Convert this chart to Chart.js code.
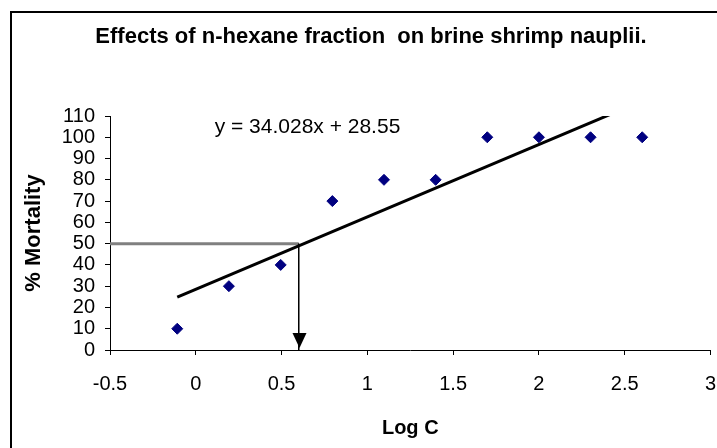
<!DOCTYPE html>
<html><head><meta charset="utf-8">
<style>
html,body{margin:0;padding:0;background:#fff;overflow:hidden;}
#wrap{position:relative;width:717px;height:448px;overflow:hidden;}
#frame{position:absolute;left:10px;top:11px;width:800px;height:600px;border:2px solid #000;box-sizing:border-box;}
canvas{position:absolute;left:0;top:0;}
</style>
<script src="https://cdn.jsdelivr.net/npm/chart.js@4.4.1/dist/chart.umd.min.js"></script>
</head><body>
<div id="wrap"><div id="frame"></div><canvas id="c" width="717" height="448"></canvas></div>
<script>
// ---- data ----
const logC      = [-0.108, 0.193, 0.495, 0.796, 1.097, 1.398, 1.699, 2.0, 2.301, 2.602];
const mortality = [10, 30, 40, 70, 80, 80, 100, 100, 100, 100];
const slope = 34.028;
const intercept = 28.55;
const lc50LogC = 0.6;
const lc50Mortality = 50;
const xMin = -0.5, xMax = 3, xStep = 0.5;
const yMin = 0, yMax = 110, yStep = 10;
const titleText = 'Effects of n-hexane fraction  on brine shrimp nauplii.';
const equationText = 'y = 34.028x + 28.55';
const xTitle = 'Log C';
const yTitle = '% Mortality';

const FONT = "'Liberation Sans', Arial, sans-serif";

const pts = logC.map((x, i) => ({x: x, y: mortality[i]}));
const tx0 = Math.min(...logC), tx1 = Math.max(...logC);
const trend = [tx0, tx1].map(x => ({x: x, y: slope * x + intercept}));
const hLine = [{x: xMin, y: lc50Mortality}, {x: lc50LogC, y: lc50Mortality}];
const vLine = [{x: lc50LogC, y: lc50Mortality}, {x: lc50LogC, y: yMin}];

const annot = {
  id: 'annot',
  afterDraw(chart) {
    const {ctx, scales: {x, y}} = chart;
    ctx.save();
    // chart title
    ctx.font = 'bold 22px ' + FONT;
    ctx.textAlign = 'center';
    ctx.textBaseline = 'middle';
    ctx.fillStyle = '#000';
    ctx.fillText(titleText, 371, 37);
    ctx.restore();
  },
  afterDatasetsDraw(chart) {
    const {ctx, scales: {x, y}} = chart;
    ctx.save();
    // arrow head
    const px = Math.round(x.getPixelForValue(lc50LogC)) + 0.5;
    const tip = y.getPixelForValue(yMin) - 2;
    ctx.fillStyle = '#000';
    ctx.beginPath();
    ctx.moveTo(px - 7, tip - 15);
    ctx.lineTo(px + 7, tip - 15);
    ctx.lineTo(px, tip);
    ctx.closePath();
    ctx.fill();
    // trendline equation
    ctx.font = '21px ' + FONT;
    ctx.textAlign = 'left';
    ctx.textBaseline = 'middle';
    ctx.fillStyle = '#000';
    ctx.fillText(equationText, x.getPixelForValue(0.11), y.getPixelForValue(104.8));
    ctx.restore();
  }
};

new Chart(document.getElementById('c'), {
  type: 'scatter',
  data: {
    datasets: [
      {data: pts, order: 0, pointStyle: 'rectRot', pointRadius: 5.5, pointBorderWidth: 1,
       backgroundColor: '#000080', borderColor: '#000080', showLine: false},
      {data: trend, order: 1, showLine: true, borderColor: '#000', borderWidth: 3, pointRadius: 0},
      {data: vLine, order: 2, showLine: true, borderColor: '#000', borderWidth: 1, pointRadius: 0},
      {data: hLine, order: 3, showLine: true, borderColor: '#808080', borderWidth: 3, pointRadius: 0}
    ]
  },
  options: {
    responsive: false,
    animation: false,
    events: [],
    layout: {padding: {left: 0, right: 6, top: 116, bottom: 0}},
    plugins: {
      legend: {display: false},
      tooltip: {enabled: false},
      title: {display: false}
    },
    scales: {
      x: {
        type: 'linear', min: xMin, max: xMax,
        afterFit(s) { s.height = 98; s.paddingLeft = 0; s.paddingRight = 0; },
        ticks: {stepSize: xStep, color: '#000', font: {family: FONT, size: 20}, padding: 17, maxRotation: 0, autoSkip: false,
                callback: v => String(v)},
        grid: {drawOnChartArea: false, drawTicks: true, tickLength: 5, color: '#000'},
        border: {color: '#000', width: 1},
        title: {display: true, text: xTitle, color: '#000', font: {family: FONT, size: 20, weight: 'bold', lineHeight: 1.2}, padding: {top: 0, bottom: 8}}
      },
      y: {
        type: 'linear', min: yMin, max: yMax,
        afterFit(s) { s.width = 110; s.paddingTop = 0; s.paddingBottom = 0; },
        ticks: {stepSize: yStep, color: '#000', font: {family: FONT, size: 20}, padding: 10, autoSkip: false},
        grid: {drawOnChartArea: false, drawTicks: true, tickLength: 5, color: '#000'},
        border: {color: '#000', width: 1},
        title: {display: true, text: yTitle, color: '#000', font: {family: FONT, size: 22, weight: 'bold', lineHeight: 1.2}, padding: {top: 21, bottom: 0}}
      }
    }
  },
  plugins: [annot]
});
</script>
</body></html>
